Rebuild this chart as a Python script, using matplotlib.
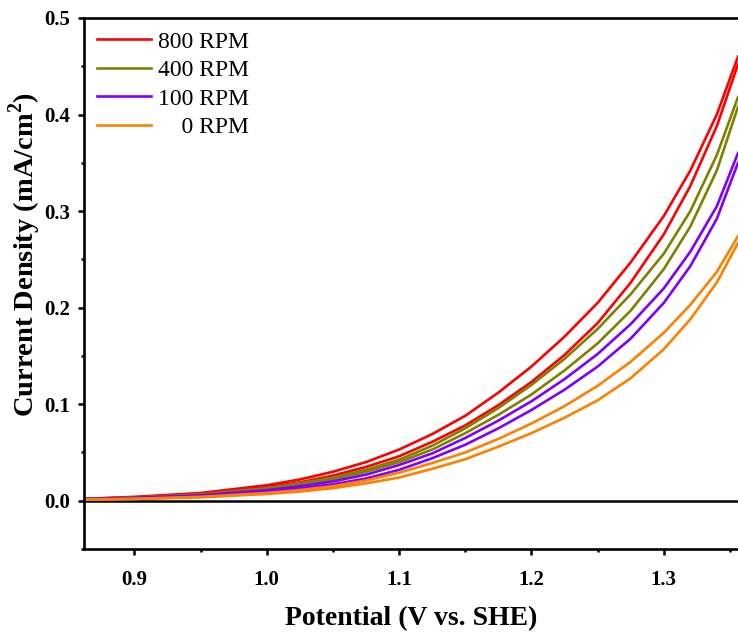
import numpy as np
import matplotlib
matplotlib.use('Agg')
import matplotlib.pyplot as plt
from matplotlib.ticker import MultipleLocator

plt.rcParams['font.family'] = ['Liberation Serif', 'DejaVu Serif']
plt.rcParams['mathtext.fontset'] = 'custom'
plt.rcParams['mathtext.rm'] = 'Liberation Serif'
plt.rcParams['mathtext.bf'] = 'Liberation Serif:bold'

# potential grid (V vs. SHE)
potential = [0.862, 0.90, 0.95, 1.00, 1.025, 1.05, 1.075, 1.10, 1.125, 1.15, 1.175,
             1.20, 1.225, 1.25, 1.275, 1.30, 1.32, 1.34, 1.356]

# current density (mA/cm2), two scan branches per rotation rate
j800_a = [0.002, 0.004, 0.008, 0.016, 0.022, 0.030, 0.040, 0.053, 0.069, 0.088, 0.112,
          0.139, 0.170, 0.205, 0.247, 0.295, 0.342, 0.400, 0.460]
j800_b = [0.0018, 0.0035, 0.007, 0.014, 0.019, 0.026, 0.035, 0.046, 0.061, 0.078, 0.099,
          0.123, 0.151, 0.184, 0.226, 0.276, 0.326, 0.388, 0.452]
j400_a = [0.0018, 0.0033, 0.0065, 0.013, 0.018, 0.024, 0.032, 0.0425, 0.057, 0.075, 0.096,
          0.120, 0.147, 0.178, 0.214, 0.256, 0.300, 0.358, 0.418]
j400_b = [0.0016, 0.003, 0.006, 0.012, 0.017, 0.022, 0.030, 0.040, 0.053, 0.070, 0.089,
          0.110, 0.135, 0.163, 0.197, 0.240, 0.284, 0.342, 0.408]
j100_a = [0.0016, 0.003, 0.0055, 0.011, 0.015, 0.020, 0.027, 0.037, 0.049, 0.065, 0.083,
          0.103, 0.126, 0.152, 0.183, 0.220, 0.258, 0.305, 0.360]
j100_b = [0.0014, 0.0025, 0.005, 0.0095, 0.013, 0.017, 0.023, 0.032, 0.044, 0.058, 0.075,
          0.094, 0.115, 0.139, 0.168, 0.205, 0.243, 0.292, 0.350]
j0_a = [0.0012, 0.002, 0.004, 0.008, 0.011, 0.015, 0.021, 0.029, 0.039, 0.050, 0.064,
        0.080, 0.098, 0.119, 0.144, 0.174, 0.203, 0.237, 0.274]
j0_b = [0.001, 0.0018, 0.0035, 0.007, 0.0095, 0.013, 0.018, 0.024, 0.033, 0.043, 0.056,
        0.070, 0.086, 0.104, 0.127, 0.157, 0.188, 0.226, 0.267]

labels = ['800 RPM', '400 RPM', '100 RPM', '    0 RPM']
colors = ['#FF0000', '#808000', '#8000FF', '#FF8000']
branches = [(j800_a, j800_b), (j400_a, j400_b), (j100_a, j100_b), (j0_a, j0_b)]

fig = plt.figure(figsize=(7.38, 6.34), dpi=100)
ax = fig.add_axes([84 / 738, 85 / 634, 1 - 84 / 738, 531 / 634])

for (ja, jb), c, lab in zip(branches, colors, labels):
    ax.plot(potential, ja, color=c, lw=1.9, label=lab)
    ax.plot(potential, jb, color=c, lw=1.9)

ax.axhline(0, color='black', lw=1.8, zorder=1)

ax.set_xlim(0.862, 1.356)
ax.set_ylim(-0.05, 0.5)
ax.xaxis.set_major_locator(MultipleLocator(0.1))
ax.xaxis.set_minor_locator(MultipleLocator(0.05))
ax.yaxis.set_major_locator(MultipleLocator(0.1))
ax.yaxis.set_minor_locator(MultipleLocator(0.05))
ax.xaxis.set_major_formatter(plt.FormatStrFormatter('%.1f'))
ax.yaxis.set_major_formatter(plt.FormatStrFormatter('%.1f'))

ax.spines['right'].set_visible(False)
for s in ['left', 'top', 'bottom']:
    ax.spines[s].set_linewidth(1.9)
ax.tick_params(which='major', direction='out', length=4, width=1.8,
               labelsize=15, pad=6)
ax.tick_params(which='minor', direction='out', length=2.5, width=1.8)
ax.tick_params(axis='x', which='major', pad=11)
for t in ax.get_xticklabels() + ax.get_yticklabels():
    t.set_fontweight('bold')

ax.set_xlabel('Potential (V vs. SHE)', fontsize=20, fontweight='bold', labelpad=12)
ax.set_ylabel(r'Current Density (mA/cm$^{\mathbf{2}}$)', fontsize=20.5,
              fontweight='bold')
ax.yaxis.set_label_coords(-0.062, 0.555)

ax.legend(loc='upper left', frameon=False, fontsize=17, handlelength=2.3,
          handletextpad=0.3, labelspacing=0.3, borderaxespad=0.15)

fig.savefig('out.png', dpi=100)
